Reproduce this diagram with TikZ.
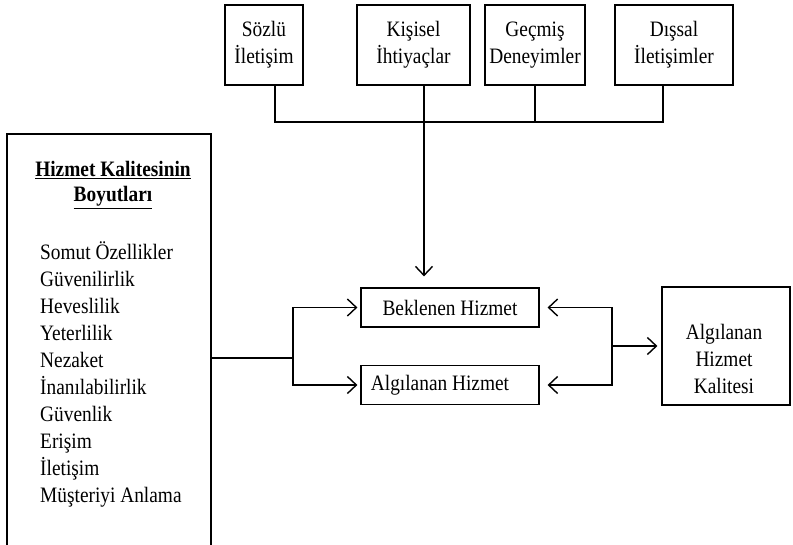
\documentclass[tikz,border=0pt]{standalone}
\usepackage{fontspec}
\setmainfont{Liberation Serif}[FakeStretch=0.88]
\usetikzlibrary{arrows.meta}

\begin{document}
\begin{tikzpicture}[
    x=1pt, y=-1pt,
    every node/.style={font=\fontsize{22}{27}\selectfont},
    block/.style={
      draw,
      line width=1.2pt,
      inner sep=0pt,
      align=center
    },
    link/.style={
      line width=1.4pt,
      -{Straight Barb[length=9pt,width=17pt,line width=1.4pt]}
    }
  ]
  \useasboundingbox (0,0) rectangle (793,544);

  % upper row
  \node[block, minimum width=78pt, minimum height=80pt] (sozlu) at (264,45)
    {Sözlü\\İletişim};
  \node[block, minimum width=113pt, minimum height=80pt] (kisisel) at (413.5,45)
    {Kişisel\\İhtiyaçlar};
  \node[block, minimum width=100pt, minimum height=80pt] (gecmis) at (535,45)
    {Geçmiş\\Deneyimler};
  \node[block, minimum width=118pt, minimum height=80pt] (dissal) at (674,45)
    {Dışsal\\İletişimler};

  % left column
  \node[block, minimum width=204pt, minimum height=416pt] (dims) at (109,342) {};
  \node[font=\bfseries\fontsize{22}{25}\selectfont, align=center] (dimshead) at (113,185)
    {\underline{Hizmet Kalitesinin}\\\underline{Boyutları}};
  \node[align=left, anchor=west, inner sep=0pt] (dimslist) at (40,374)
    {Somut Özellikler\\Güvenilirlik\\Heveslilik\\Yeterlilik\\Nezaket\\
     İnanılabilirlik\\Güvenlik\\Erişim\\İletişim\\Müşteriyi Anlama};

  % middle and right
  \node[block, minimum width=178pt, minimum height=39pt] (expected) at (450,307.5)
    {Beklenen Hizmet};
  \node[block, minimum width=178pt, minimum height=39pt] (perceived) at (450,385)
    {Algılanan Hizmet\hspace*{20pt}};
  \node[block, minimum width=128pt, minimum height=118pt] (quality) at (726,346) {};
  \node[align=center] (qualitytext) at (724,359)
    {Algılanan\\Hizmet\\Kalitesi};

  \coordinate (busL) at (275,122);
  \coordinate (busR) at (663,122);
  \coordinate (drop) at (424,122);
  \coordinate (forkL) at (293,358);
  \coordinate (forkR) at (612,346);

  \draw[line width=1.2pt] (sozlu.south -| busL) -- (busL) -- (busR) -- (dissal.south -| busR);
  \draw[line width=1.2pt] (gecmis.south) -- (gecmis.south |- busL);
  \draw[link] (kisisel.south -| drop) -- ([yshift=11pt]drop |- expected.north);

  \draw[line width=1.4pt] (dims.east |- forkL) -- (forkL);
  \draw[link] (forkL) |- ([xshift=-3pt]expected.west);
  \draw[link] (forkL) |- ([xshift=-3pt]perceived.west);
  \draw[link] (forkR) |- ([xshift=8pt]expected.east);
  \draw[link] (forkR) |- ([xshift=8pt]perceived.east);
  \draw[link] (forkR) -- ([xshift=-4pt]quality.west);
\end{tikzpicture}
\end{document}
